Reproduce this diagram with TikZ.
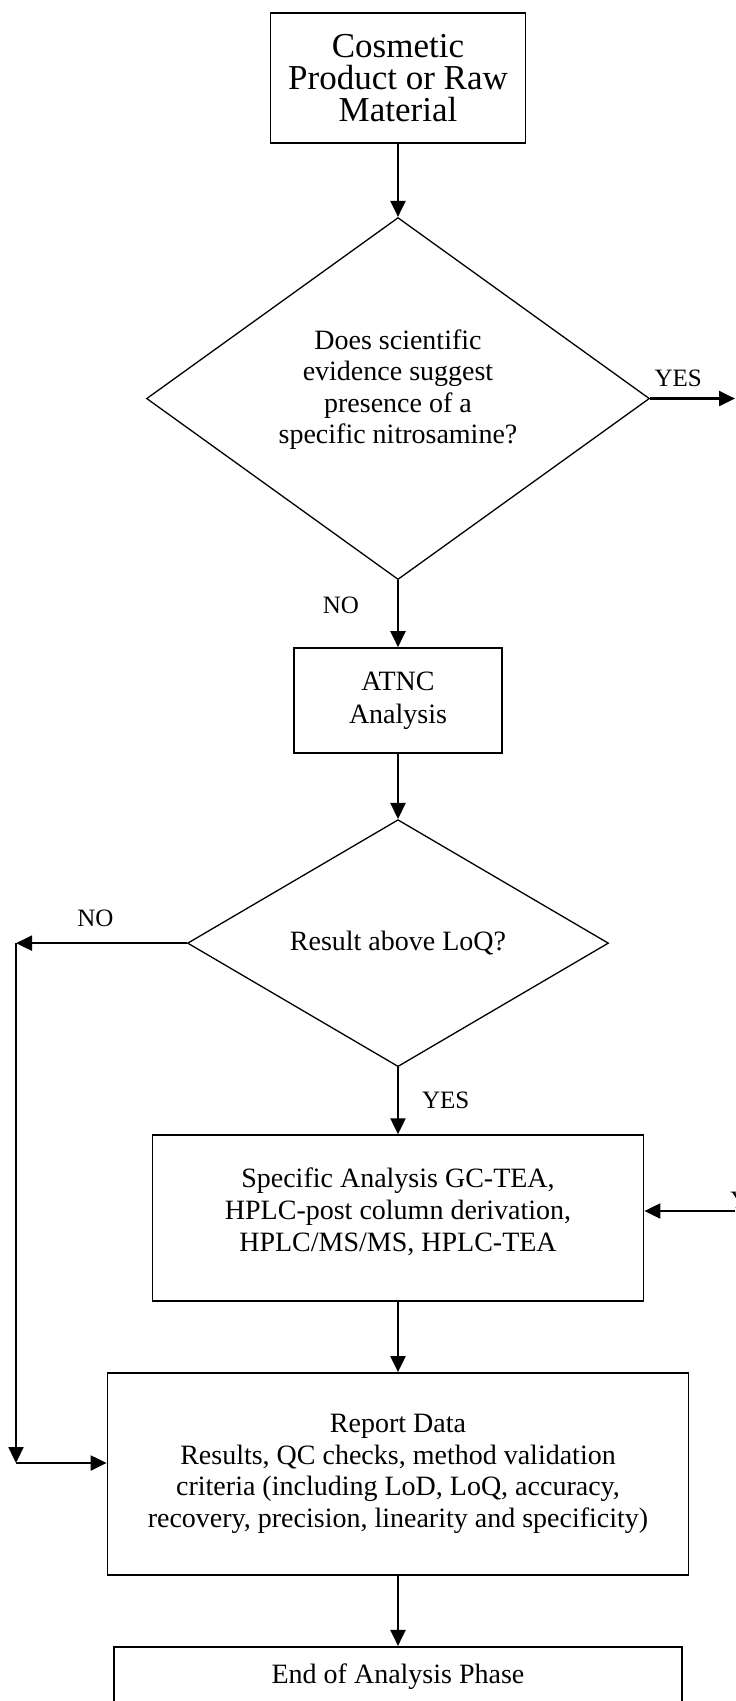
\documentclass[tikz,border=0pt]{standalone}
\usepackage{fontspec}
\setmainfont{Liberation Serif}
\usetikzlibrary{positioning,shapes.geometric,arrows.meta}

\begin{document}
\begin{tikzpicture}[x=0.5pt, y=-0.5pt,
    box/.style={rectangle, draw, line width=0.9pt, align=center, inner sep=0pt, font=\fontsize{14}{15.8}\selectfont},
    decision/.style={diamond, draw, line width=0.65pt, align=center, inner sep=0pt, font=\fontsize{14}{15.8}\selectfont},
    arrow/.style={-{Triangle[length=8pt,width=7.5pt]}, line width=1.1pt},
    lbl/.style={inner sep=0pt, font=\fontsize{12.5}{14}\selectfont}]
    % Frame
    \useasboundingbox (0,0) rectangle (735,1701);
    \clip (0,0) rectangle (735,1701);
    % Nodes
    \node[box, minimum width=127.5pt, minimum height=65pt, font=\fontsize{17.5}{16.2}\selectfont] (product) at (398,78) {Cosmetic\\Product or Raw\\Material};
    \node[decision, minimum width=251.5pt, minimum height=181pt, aspect=1.39, text depth=12pt] (evidence) [below=36.5pt of product] {Does scientific\\evidence suggest\\presence of a\\specific nitrosamine?};
    \node[box, minimum width=104pt, minimum height=52.5pt, font=\fontsize{14}{16.5}\selectfont] (atnc) [below=33.5pt of evidence] {ATNC\\Analysis};
    \node[decision, minimum width=210.5pt, minimum height=123.5pt, aspect=1.7] (loq) [below=32.5pt of atnc] {Result above LoQ?};
    \node[box, minimum width=245.5pt, minimum height=83pt, text depth=8.5pt] (specific) [below=33.5pt of loq] {Specific Analysis GC-TEA,\\HPLC-post column derivation,\\HPLC/MS/MS, HPLC-TEA};
    \node[box, minimum width=290.5pt, minimum height=101pt] (report) [below=35pt of specific] {Report Data\\Results, QC checks, method validation\\criteria (including LoD, LoQ, accuracy,\\recovery, precision, linearity and specificity)};
    \node[box, minimum width=284pt, text height=9pt, text depth=30pt, inner ysep=9.5pt] (endphase) [below=35pt of report] {End of Analysis Phase};
    % Coordinates
    \coordinate (rightedge) at (735,0);
    \coordinate (leftrail) at (16,0);
    \coordinate (noleft) at (loq.west -| leftrail);
    \coordinate (nocorner) at (16,1463);
    \coordinate (yesin) at (735,1211);
    % Lines
    \draw[arrow] (product) -- (evidence);
    \draw[arrow] (evidence.east) -- (evidence.east -| rightedge) node[lbl, pos=0.33, above=5.5pt] (yesA) {YES};
    \draw[arrow] (evidence) -- (atnc) node[lbl, pos=0.37, left=19pt] (noA) {NO};
    \draw[arrow] (atnc) -- (loq);
    \draw[arrow] (loq.west) -- (noleft) node[lbl, pos=0.535, above=7.5pt] (noB) {NO};
    \draw[arrow] (noleft) -- (nocorner);
    \draw[arrow] (nocorner) -- (nocorner -| report.west);
    \draw[arrow] (loq) -- (specific) node[lbl, midway, right=11.5pt] (yesB) {YES};
    \draw[arrow] (yesin) -- (yesin -| specific.east);
    \node[lbl, anchor=south west] (yesC) at (730,1209) {YES};
    \draw[arrow] (specific) -- (report);
    \draw[arrow] (report) -- (endphase);
\end{tikzpicture}
\end{document}
